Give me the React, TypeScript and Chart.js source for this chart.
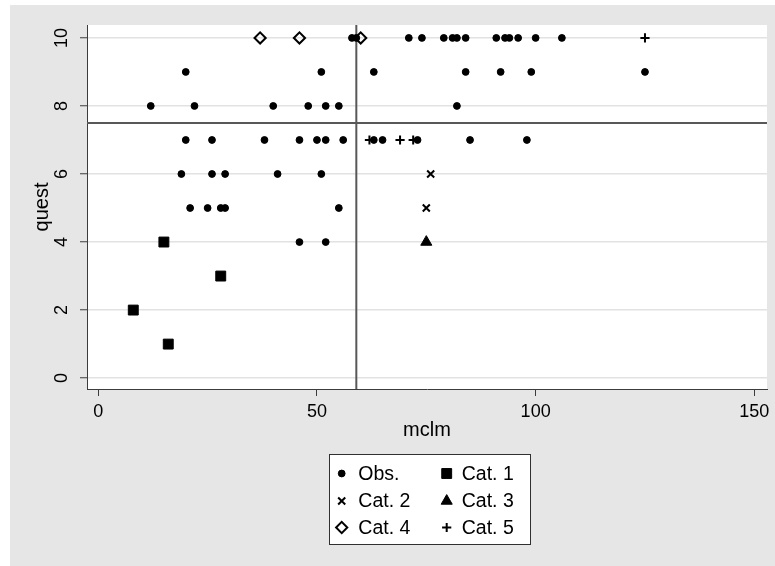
import React, { useEffect, useRef } from 'react';
import { Chart, registerables } from 'chart.js';
import { drawPoint } from 'chart.js/helpers';

Chart.register(...registerables);

// ---- data ----
const seriesLabels = ['Obs.', 'Cat. 1', 'Cat. 2', 'Cat. 3', 'Cat. 4', 'Cat. 5'];

const obsX = [
  58, 59, 71, 74, 79, 81, 82, 84, 91, 93, 94, 96, 100, 106,
  20, 51, 63, 84, 92, 99, 125,
  12, 22, 40, 48, 52, 55, 82,
  20, 26, 38, 46, 50, 52, 56, 63, 65, 73, 85, 98,
  19, 26, 29, 41, 51,
  21, 25, 28, 29, 55,
  46, 52,
];
const obsY = [
  10, 10, 10, 10, 10, 10, 10, 10, 10, 10, 10, 10, 10, 10,
  9, 9, 9, 9, 9, 9, 9,
  8, 8, 8, 8, 8, 8, 8,
  7, 7, 7, 7, 7, 7, 7, 7, 7, 7, 7, 7,
  6, 6, 6, 6, 6,
  5, 5, 5, 5, 5,
  4, 4,
];
const cat1X = [15, 28, 8, 16];
const cat1Y = [4, 3, 2, 1];
const cat2X = [76, 75];
const cat2Y = [6, 5];
const cat3X = [75];
const cat3Y = [4];
const cat4X = [37, 46, 60];
const cat4Y = [10, 10, 10];
const cat5X = [62, 69, 72, 125];
const cat5Y = [7, 7, 7, 10];

const refX = 59;
const refY = 7.5;

const xTicks = [0, 50, 100, 150];
const yTicks = [0, 2, 4, 6, 8, 10];
const xRange = [-2.58, 152.9];
const yRange = [-0.32, 10.38];

const xTitle = 'mclm';
const yTitle = 'quest';

// ---- styling ----
const FONT = "'Liberation Sans', Arial, Helvetica, sans-serif";
const AXIS = '#3c3c3c';

const pts = (xs: number[], ys: number[]) => xs.map((x, i) => ({ x, y: ys[i] }));

const markerStyles = [
  { pointStyle: 'circle', radius: 3.4, borderWidth: 1, fill: '#000' },
  { pointStyle: 'rect', radius: 7, borderWidth: 1, fill: '#000' },
  { pointStyle: 'crossRot', radius: 5, borderWidth: 2, fill: '#000' },
  { pointStyle: 'triangle', radius: 6.4, borderWidth: 1, fill: '#000' },
  { pointStyle: 'rectRot', radius: 5.6, borderWidth: 2, fill: 'rgba(0,0,0,0)' },
  { pointStyle: 'cross', radius: 4.6, borderWidth: 2, fill: '#000' },
];

const bgPlugin = {
  id: 'bgPlugin',
  beforeDraw(chart: any) {
    const { ctx, chartArea: a, width, height } = chart;
    ctx.save();
    ctx.fillStyle = '#e6e6e6';
    ctx.fillRect(0, 0, width, height);
    ctx.fillStyle = '#ffffff';
    ctx.fillRect(a.left, a.top, a.right - a.left, a.bottom - a.top);
    ctx.restore();
  },
};

const legendPlugin = {
  id: 'boxLegend',
  afterDraw(chart: any) {
    const { ctx } = chart;
    const box = { left: 319, top: 449, right: 521, bottom: 540 };
    ctx.save();
    ctx.fillStyle = '#ffffff';
    ctx.fillRect(box.left, box.top, box.right - box.left, box.bottom - box.top);
    ctx.strokeStyle = '#303030';
    ctx.lineWidth = 1;
    ctx.strokeRect(box.left + 0.5, box.top + 0.5, box.right - box.left - 1, box.bottom - box.top - 1);
    const rows = [468.5, 496, 522.5];
    const markerX = [331.7, 436.7];
    const textX = [348.3, 451.7];
    ctx.font = `19.5px ${FONT}`;
    ctx.textBaseline = 'middle';
    ctx.textAlign = 'left';
    seriesLabels.forEach((label, i) => {
      const r = Math.floor(i / 2);
      const c = i % 2;
      const m = markerStyles[i];
      ctx.fillStyle = m.fill;
      ctx.strokeStyle = '#000';
      ctx.lineWidth = m.borderWidth;
      drawPoint(ctx, { pointStyle: m.pointStyle, rotation: 0, radius: m.radius, borderWidth: m.borderWidth } as any, markerX[c], rows[r]);
      ctx.fillStyle = '#000';
      ctx.fillText(label, textX[c], rows[r] + 1);
    });
    ctx.restore();
  },
};

export default function App() {
  const ref = useRef<HTMLCanvasElement>(null);

  useEffect(() => {
    if (!ref.current) return;
    const seriesData = [
      pts(obsX, obsY),
      pts(cat1X, cat1Y),
      pts(cat2X, cat2Y),
      pts(cat3X, cat3Y),
      pts(cat4X, cat4Y),
      pts(cat5X, cat5Y),
    ];
    const datasets: any[] = seriesData.map((d, i) => ({
      type: 'scatter',
      label: seriesLabels[i],
      data: d,
      pointStyle: markerStyles[i].pointStyle,
      pointRadius: markerStyles[i].radius,
      pointBorderWidth: markerStyles[i].borderWidth,
      pointBackgroundColor: markerStyles[i].fill,
      pointBorderColor: '#000',
      order: i === 0 ? 5 : 1,
    }));
    datasets.push({
      type: 'line',
      label: 'refX',
      data: [{ x: refX, y: yRange[0] }, { x: refX, y: yRange[1] }],
      borderColor: '#585858',
      borderWidth: 2,
      pointRadius: 0,
      order: 20,
    });
    datasets.push({
      type: 'line',
      label: 'refY',
      data: [{ x: xRange[0], y: refY }, { x: xRange[1], y: refY }],
      borderColor: '#585858',
      borderWidth: 2,
      pointRadius: 0,
      order: 20,
    });

    const chart = new Chart(ref.current, {
      type: 'scatter',
      data: { datasets },
      plugins: [bgPlugin, legendPlugin],
      options: {
        animation: false,
        responsive: false,
        devicePixelRatio: 1,
        layout: { padding: { top: 20, right: 7, left: 0, bottom: 0 } },
        plugins: { legend: { display: false }, tooltip: { enabled: false } },
        scales: {
          x: {
            type: 'linear',
            min: xRange[0],
            max: xRange[1],
            afterBuildTicks: (s: any) => { s.ticks = xTicks.map((v) => ({ value: v })); },
            afterFit: (s: any) => { s.height = 177; },
            grid: { drawOnChartArea: false, drawTicks: true, tickLength: 7, tickColor: AXIS, tickWidth: 1 },
            border: { display: true, color: AXIS, width: 1 },
            ticks: { color: '#000', padding: 5, font: { family: FONT, size: 18 }, maxRotation: 0, minRotation: 0, callback: (v: any) => String(v) },
            title: { display: true, text: xTitle, color: '#000', font: { family: FONT, size: 20 }, padding: { top: 0, bottom: 124 } },
          },
          y: {
            type: 'linear',
            min: yRange[0],
            max: yRange[1],
            afterBuildTicks: (s: any) => { s.ticks = yTicks.map((v) => ({ value: v })); },
            afterFit: (s: any) => { s.width = 77; },
            grid: { color: '#e2e2e2', lineWidth: 1.5, drawTicks: true, tickLength: 7, tickColor: AXIS, tickWidth: 1 },
            border: { display: true, color: AXIS, width: 1 },
            ticks: { color: '#000', padding: 8, crossAlign: 'center', font: { family: FONT, size: 18 }, minRotation: 90, maxRotation: 90, callback: (v: any) => String(v) },
            title: { display: true, text: yTitle, color: '#000', font: { family: FONT, size: 20 }, padding: { top: 20, bottom: 0 } },
          },
        },
      } as any,
    });
    return () => chart.destroy();
  }, []);

  return (
    <div style={{ position: 'absolute', left: 10, top: 5, width: 765, height: 561 }}>
      <canvas ref={ref} width={765} height={561} style={{ width: 765, height: 561, display: 'block' }} />
    </div>
  );
}
